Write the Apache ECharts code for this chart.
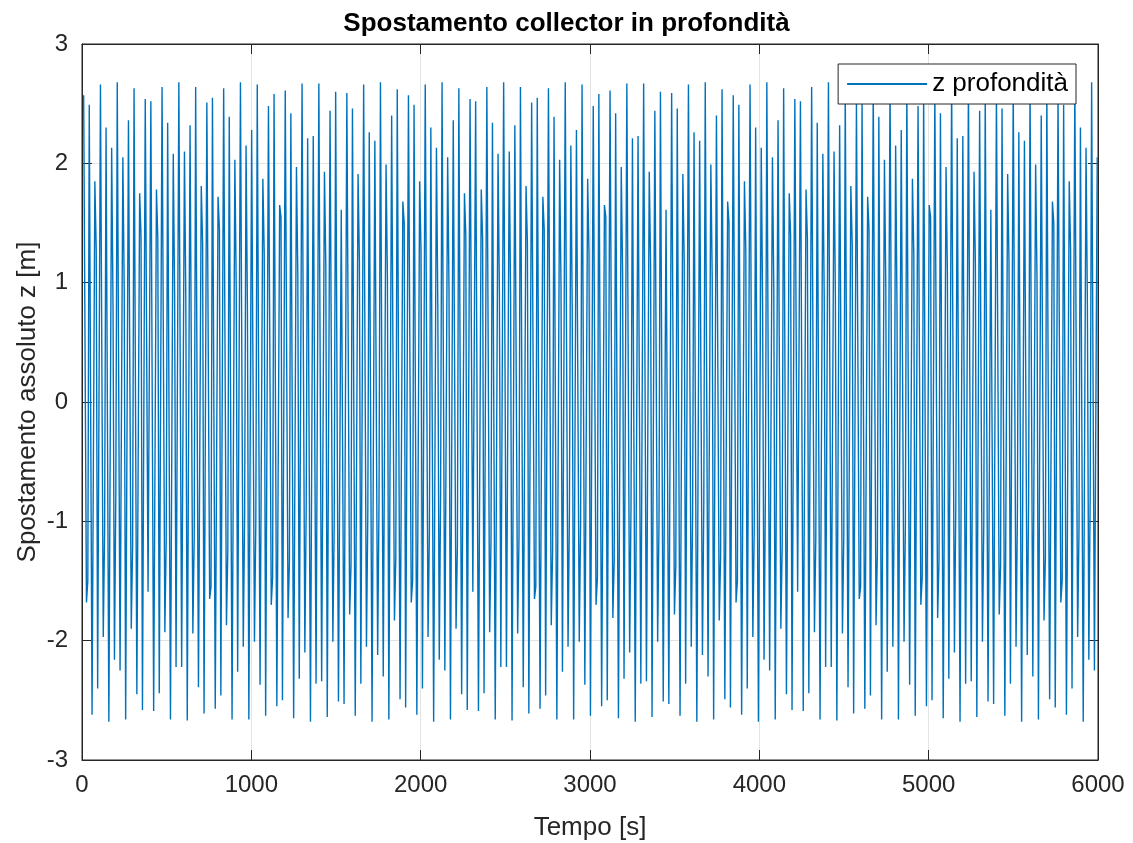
<!DOCTYPE html>
<html>
<head>
<meta charset="utf-8">
<script src="https://cdn.jsdelivr.net/npm/echarts@6/dist/echarts.min.js"></script>
<style>
html,body{margin:0;padding:0;background:#fff;}
#chart{width:1133px;height:843px;}
</style>
</head>
<body>
<div id="chart"></div>
<script>
// ---- data ----
const chartTitle = 'Spostamento collector in profondità';
const seriesName = 'z profondità';
const xLabel = 'Tempo [s]';
const yLabel = 'Spostamento assoluto z [m]';
const xTicks = [0, 1000, 2000, 3000, 4000, 5000, 6000];
const yTicks = [-3, -2, -1, 0, 1, 2, 3];

// time of the first crest, spacing of crests and offset of the shoulder samples (s)
const firstCrestTime = 9.8;
const crestSpacing = 33.07;
const shoulderOffset = 8;

// crest values (m), left to right
const crestValues = [
  2.57,2.49,1.85,2.66,2.30,2.13,2.68,2.05,2.36,2.63,
  1.75,2.54,2.52,1.78,2.64,2.34,2.08,2.68,2.10,2.32,
  2.64,1.81,2.51,2.55,1.72,2.63,2.39,2.03,2.68,2.15,
  2.28,2.66,1.87,2.48,2.58,1.65,2.61,2.42,1.97,2.67,
  2.21,2.23,2.67,1.93,2.44,2.60,1.61,2.59,2.46,1.91,
  2.66,2.26,2.19,2.68,1.99,2.40,2.62,1.68,
  2.57,2.49,1.85,2.66,2.30,2.13,2.68,2.05,2.36,2.63,
  1.75,2.54,2.52,1.78,2.64,2.34,2.08,2.68,2.10,2.32,
  2.64,1.81,2.51,2.55,1.72,2.63,2.39,2.03,2.68,2.15,
  2.28,2.66,1.87,2.48,2.58,1.65,2.61,2.42,1.97,2.67,
  2.21,2.23,2.67,1.93,2.44,2.60,1.61,2.59,2.46,1.91,
  2.66,2.26,2.19,2.68,1.99,2.40,2.62,1.68,
  2.57,2.49,1.85,2.66,2.30,2.13,2.68,2.05,2.36,2.63,
  1.75,2.54,2.52,1.78,2.64,2.34,2.08,2.68,2.10,2.32,
  2.64,1.81,2.51,2.55,1.72,2.63,2.39,2.03,2.68,2.15,
  2.28,2.66,1.87,2.48,2.58,1.65,2.61,2.42,1.97,2.67,
  2.21,2.23,2.67,1.93,2.44,2.60,1.61,2.59,2.46,1.91,
  2.66,2.26,2.19,2.68,1.99,2.40,2.62,1.68,
  2.57,2.49,1.85,2.66,2.30,2.13,2.68,2.05
];

// shoulder sample just after each crest (m), null where none is visible
const crestShoulders = [
  null,null,1.28,null,null,0.82,null,0.95,null,null,
  1.40,null,null,1.37,null,null,0.90,null,0.87,null,
  null,1.33,null,null,1.45,null,null,0.98,null,0.80,
  null,null,1.25,null,null,1.55,null,null,1.08,null,
  null,null,null,1.15,null,null,1.60,null,null,1.18,
  null,null,null,null,1.05,null,null,1.50,
  null,null,1.28,null,null,0.82,null,0.95,null,null,
  1.40,null,null,1.37,null,null,0.90,null,0.87,null,
  null,1.33,null,null,1.45,null,null,0.98,null,0.80,
  null,null,1.25,null,null,1.55,null,null,1.08,null,
  null,null,null,1.15,null,null,1.60,null,null,1.18,
  null,null,null,null,1.05,null,null,1.50,
  null,null,1.28,null,null,0.82,null,0.95,null,null,
  1.40,null,null,1.37,null,null,0.90,null,0.87,null,
  null,1.33,null,null,1.45,null,null,0.98,null,0.80,
  null,null,1.25,null,null,1.55,null,null,1.08,null,
  null,null,null,1.15,null,null,1.60,null,null,1.18,
  null,null,null,null,1.05,null,null,1.50,
  null,null,1.28,null,null,0.82,null,0.95
];

// trough values (m), left to right (each one follows the crest of same index)
const troughValues = [
  -1.68,-2.62,-2.40,-1.97,-2.68,-2.16,-2.25,-2.66,-1.90,-2.45,
  -2.58,-1.59,-2.59,-2.44,-1.93,-2.66,-2.22,-2.22,-2.67,-1.94,
  -2.39,-2.61,-1.65,-2.57,-2.46,-1.87,-2.66,-2.26,-2.05,-2.66,
  -2.01,-2.37,-2.63,-1.70,-2.55,-2.50,-1.81,-2.65,-2.32,-2.10,
  -2.68,-2.36,-2.34,-2.64,-2.01,-2.51,-2.53,-1.78,-2.63,-2.36,
  -2.05,-2.68,-2.12,-2.30,-2.66,-1.83,-2.49,-2.56,
  -1.68,-2.62,-2.40,-1.97,-2.68,-2.16,-2.25,-2.66,-1.90,-2.45,
  -2.58,-1.59,-2.59,-2.44,-1.93,-2.66,-2.22,-2.22,-2.67,-1.94,
  -2.39,-2.61,-1.65,-2.57,-2.46,-1.87,-2.66,-2.26,-2.05,-2.66,
  -2.01,-2.37,-2.63,-1.70,-2.55,-2.50,-1.81,-2.65,-2.32,-2.10,
  -2.68,-2.36,-2.34,-2.64,-2.01,-2.51,-2.53,-1.78,-2.63,-2.36,
  -2.05,-2.68,-2.12,-2.30,-2.66,-1.83,-2.49,-2.56,
  -1.68,-2.62,-2.40,-1.97,-2.68,-2.16,-2.25,-2.66,-1.90,-2.45,
  -2.58,-1.59,-2.59,-2.44,-1.93,-2.66,-2.22,-2.22,-2.67,-1.94,
  -2.39,-2.61,-1.65,-2.57,-2.46,-1.87,-2.66,-2.26,-2.05,-2.66,
  -2.01,-2.37,-2.63,-1.70,-2.55,-2.50,-1.81,-2.65,-2.32,-2.10,
  -2.68,-2.36,-2.34,-2.64,-2.01,-2.51,-2.53,-1.78,-2.63,-2.36,
  -2.05,-2.68,-2.12,-2.30,-2.66,-1.83,-2.49,-2.56,
  -1.68,-2.62,-2.40,-1.97,-2.68,-2.16,-2.25
];

// shoulder sample just after each trough (m), null where none is visible
const troughShoulders = [
  -1.50,null,null,-1.08,null,-0.78,null,null,-1.20,null,
  null,-1.58,null,null,-1.15,null,null,null,null,-1.13,
  null,null,-1.55,null,null,-1.25,null,null,-0.95,null,
  -1.02,null,null,-1.47,null,null,-1.33,null,null,-0.87,
  null,null,null,null,-1.02,null,null,-1.37,null,null,
  -0.95,null,-0.84,null,null,-1.30,null,null,
  -1.50,null,null,-1.08,null,-0.78,null,null,-1.20,null,
  null,-1.58,null,null,-1.15,null,null,null,null,-1.13,
  null,null,-1.55,null,null,-1.25,null,null,-0.95,null,
  -1.02,null,null,-1.47,null,null,-1.33,null,null,-0.87,
  null,null,null,null,-1.02,null,null,-1.37,null,null,
  -0.95,null,-0.84,null,null,-1.30,null,null,
  -1.50,null,null,-1.08,null,-0.78,null,null,-1.20,null,
  null,-1.58,null,null,-1.15,null,null,null,null,-1.13,
  null,null,-1.55,null,null,-1.25,null,null,-0.95,null,
  -1.02,null,null,-1.47,null,null,-1.33,null,null,-0.87,
  null,null,null,null,-1.02,null,null,-1.37,null,null,
  -0.95,null,-0.84,null,null,-1.30,null,null,
  -1.50,null,null,-1.08,null,-0.78,null
];

// ---- build the series (time, value) ----
const seriesData = [];
for (let i = 0; i < crestValues.length; i++) {
  const tc = firstCrestTime + i * crestSpacing;
  seriesData.push([tc, crestValues[i]]);
  if (crestShoulders[i] !== null && i < troughValues.length) {
    seriesData.push([tc + shoulderOffset, crestShoulders[i]]);
  }
  if (i < troughValues.length) {
    const tt = tc + crestSpacing / 2;
    seriesData.push([tt, troughValues[i]]);
    if (troughShoulders[i] !== null) {
      seriesData.push([tt + shoulderOffset, troughShoulders[i]]);
    }
  }
}

const FONT = '"Liberation Sans", Arial, Helvetica, sans-serif';
const AX = '#262626';
const GRID = '#e3e3e3';

const chart = echarts.init(document.getElementById('chart'), null, {renderer: 'canvas'});
const option = {
  animation: false,
  backgroundColor: '#ffffff',
  title: {
    text: chartTitle,
    left: 'center',
    top: 6,
    textStyle: {fontFamily: FONT, fontSize: 26, fontWeight: 'bold', color: '#000'}
  },
  legend: {
    data: [seriesName],
    right: 57,
    top: 64,
    orient: 'vertical',
    backgroundColor: '#fff',
    borderColor: AX,
    borderWidth: 1,
    borderRadius: 0,
    padding: [7, 8, 7, 9],
    itemWidth: 80,
    itemHeight: 2,
    icon: 'rect',
    textStyle: {fontFamily: FONT, fontSize: 26, color: '#000'}
  },
  grid: {
    left: 82, right: 35, top: 44, bottom: 83,
    outerBoundsMode: 'none',
    containLabel: false,
    show: true, borderColor: AX, borderWidth: 1, backgroundColor: 'transparent'
  },
  xAxis: [{
    type: 'value', min: xTicks[0], max: xTicks[xTicks.length - 1], interval: 1000,
    name: xLabel, nameLocation: 'middle', nameGap: 55, nameMoveOverlap: false,
    nameTextStyle: {fontFamily: FONT, fontSize: 26, color: AX},
    axisLine: {show: true, onZero: false, lineStyle: {color: AX, width: 1}},
    axisTick: {show: true, inside: true, length: 10, lineStyle: {color: AX}},
    axisLabel: {fontFamily: FONT, fontSize: 24, color: AX, margin: 13, formatter: v => String(v)},
    splitLine: {show: true, lineStyle: {color: GRID, width: 1}}
  }, {
    type: 'value', position: 'top', min: xTicks[0], max: xTicks[xTicks.length - 1], interval: 1000,
    axisLine: {show: true, onZero: false, lineStyle: {color: AX, width: 1}},
    axisTick: {show: true, inside: true, length: 10, lineStyle: {color: AX}},
    axisLabel: {show: false},
    splitLine: {show: false}
  }],
  yAxis: [{
    type: 'value', min: yTicks[0], max: yTicks[yTicks.length - 1], interval: 1,
    name: yLabel, nameLocation: 'middle', nameGap: 41, nameRotate: 90, nameMoveOverlap: false,
    nameTextStyle: {fontFamily: FONT, fontSize: 26, color: AX},
    axisLine: {show: true, onZero: false, lineStyle: {color: AX, width: 1}},
    axisTick: {show: true, inside: true, length: 10, lineStyle: {color: AX}},
    axisLabel: {fontFamily: FONT, fontSize: 24, color: AX, margin: 14},
    splitLine: {show: true, lineStyle: {color: GRID, width: 1}}
  }, {
    type: 'value', position: 'right', min: yTicks[0], max: yTicks[yTicks.length - 1], interval: 1,
    axisLine: {show: true, onZero: false, lineStyle: {color: AX, width: 1}},
    axisTick: {show: true, inside: true, length: 10, lineStyle: {color: AX}},
    axisLabel: {show: false},
    splitLine: {show: false}
  }],
  series: [{
    name: seriesName,
    type: 'line',
    data: seriesData,
    showSymbol: false,
    symbol: 'none',
    sampling: null,
    color: '#0072BD',
    lineStyle: {color: '#0072BD', width: 1.4},
    z: 2
  }]
};
chart.setOption(option);
</script>
</body>
</html>
